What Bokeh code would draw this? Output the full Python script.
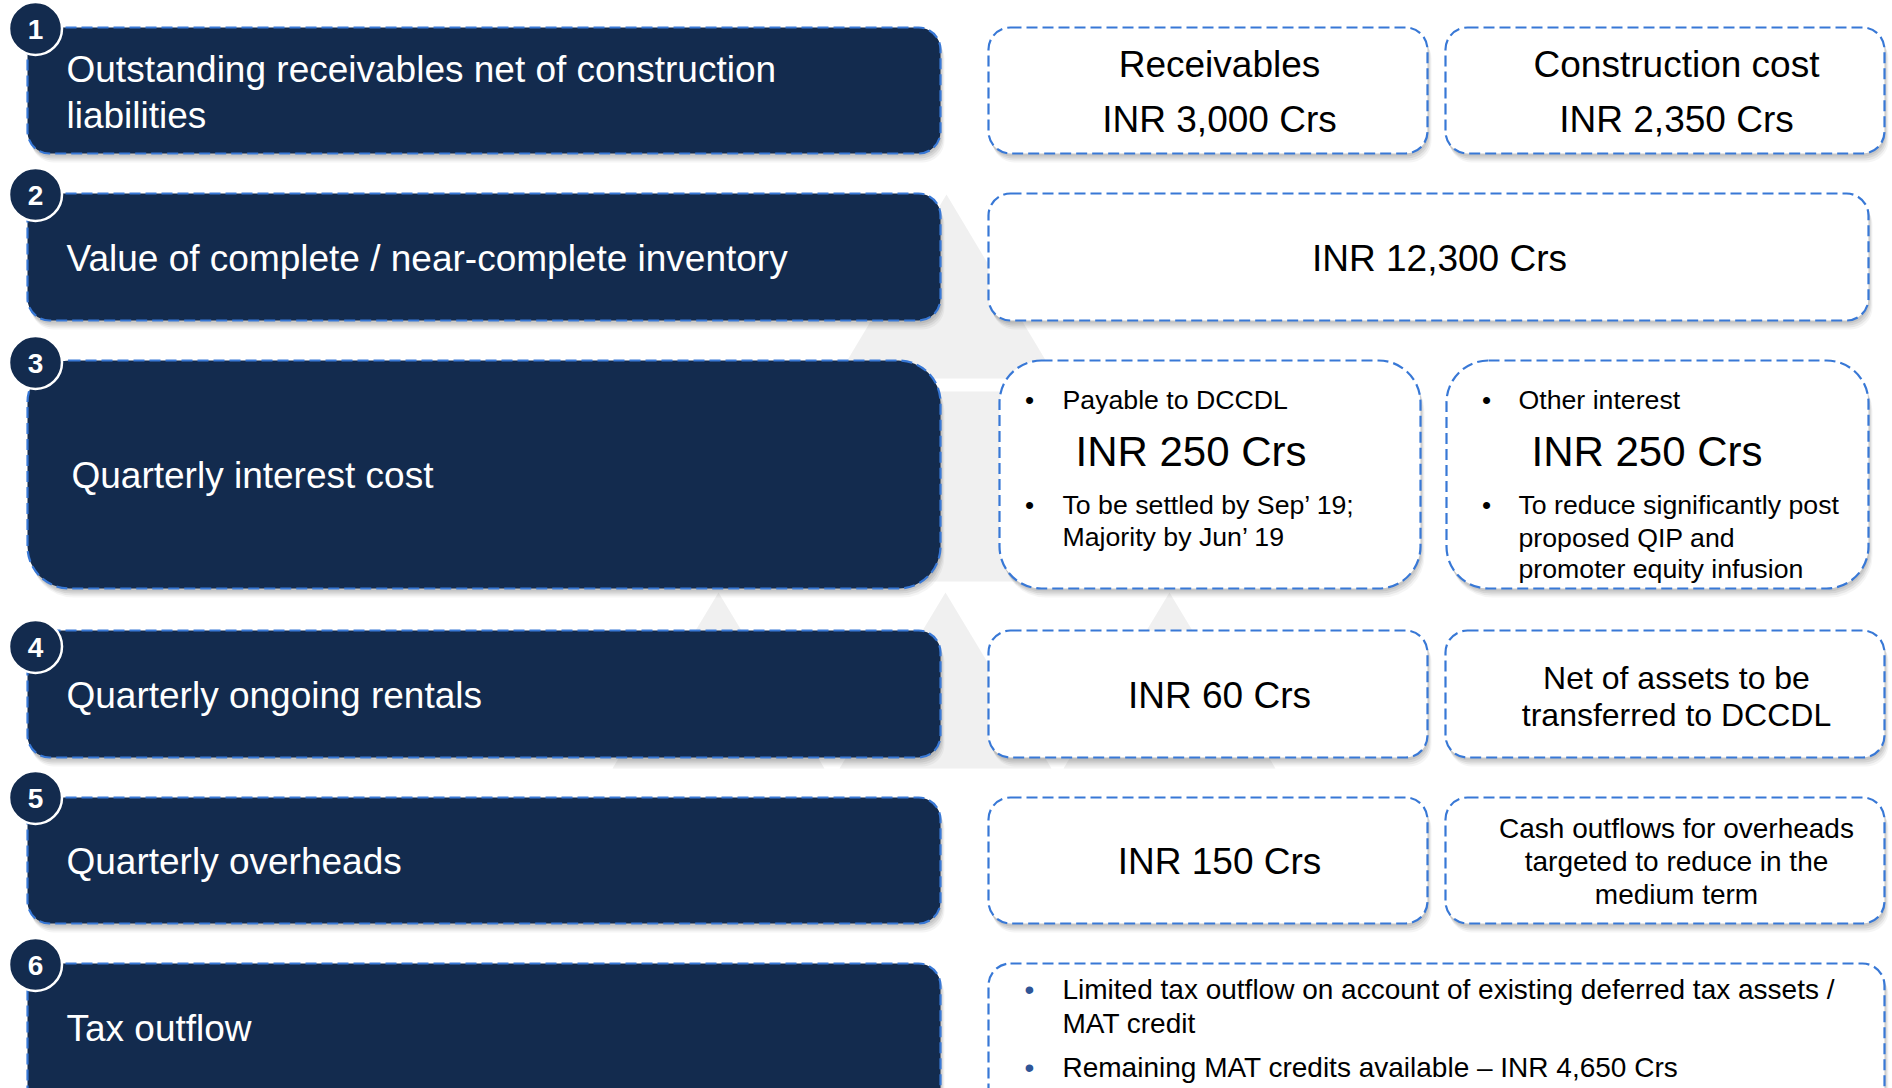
from bokeh.plotting import figure
from bokeh.models import Range1d
from bokeh.core.properties import value
from bokeh.embed import file_html
from bokeh.resources import INLINE

FONT = value("Liberation Sans")
NAVY = "#132b4e"
BLUE = "#3878d6"

# ---------------- content ----------------
row_numbers = ["1", "2", "3", "4", "5", "6"]
row_labels = [
    ["Outstanding receivables net of construction", "liabilities"],
    ["Value of complete / near-complete inventory"],
    ["Quarterly interest cost"],
    ["Quarterly ongoing rentals"],
    ["Quarterly overheads"],
    ["Tax outflow"],
]
receivables = "INR 3,000 Crs"
construction_cost = "INR 2,350 Crs"
inventory_value = "INR 12,300 Crs"
interest_dccdl = "INR 250 Crs"
interest_other = "INR 250 Crs"
rentals = "INR 60 Crs"
overheads = "INR 150 Crs"
mat_credit = "INR 4,650 Crs"

# ---------------- layout ----------------
W, H = 1892, 1088
p = figure(width=W, height=H, x_range=Range1d(0, W), y_range=Range1d(H, 0),
           output_backend="svg", toolbar_location=None, min_border=0,
           x_axis_location=None, y_axis_location=None)
p.grid.visible = False
p.outline_line_color = None
p.background_fill_color = "white"
p.border_fill_color = "white"

# watermark (faint logo)
wm = "#f0f0f0"
p.patches(
    xs=[[946, 836, 1056], [828, 1064, 1178, 714], [718, 612, 824], [945, 839, 1051], [1169, 1063, 1275]],
    ys=[[194, 378, 378], [391, 391, 581, 581], [592, 768, 768], [592, 768, 768], [592, 768, 768]],
    fill_color=wm, line_color=None)

row_top = [27, 193, 360, 630, 797, 963]
row_bot = [153, 320, 588, 757, 923, 1110]
left_radius = [22, 22, 42, 22, 22, 22]
circle_y = [28, 194, 362, 646, 797, 964]

# right boxes: (left, right, row index, radius)
right_boxes = [
    (988, 1427, 0, 22), (1445, 1884, 0, 22),
    (988, 1868, 1, 22),
    (999, 1420, 2, 42), (1446, 1868, 2, 42),
    (988, 1427, 3, 22), (1445, 1884, 3, 22),
    (988, 1427, 4, 22), (1445, 1884, 4, 22),
    (988, 1884, 5, 22),
]


def box(l, r, t, b, rad, fill):
    for dx, dy, a in [(1, 3, 0.10), (2, 5, 0.10), (3, 7, 0.08), (4, 9, 0.05)]:
        p.quad(left=l + dx, right=r + dx, top=t + dy, bottom=b + dy,
               fill_color="#404040", fill_alpha=a, line_color=None, border_radius=rad)
    p.quad(left=l, right=r, top=t, bottom=b, fill_color=fill, line_color=BLUE,
           line_width=2.2, line_dash="11 5", border_radius=rad)


for i in range(6):
    box(27, 940, row_top[i], row_bot[i], left_radius[i], NAVY)
for (l, r, ri, rad) in right_boxes:
    box(l, r, row_top[ri], row_bot[ri], rad, "white")

# number circles
p.scatter(x=[35] * 6, y=circle_y, size=53, fill_color=NAVY, line_color="white", line_width=2.5)
p.text(x=[35] * 6, y=[c + 1 for c in circle_y], text=row_numbers, text_font=FONT,
       text_font_style="bold", text_font_size="28px", text_color="white",
       text_align="center", text_baseline="middle")

# left labels
lx = [66, 66, 71, 66, 66, 66]
ly = [[69, 115], [258], [475], [695], [861], [1028]]
tx, ty, tt = [], [], []
for i, lines in enumerate(row_labels):
    for j, s in enumerate(lines):
        tx.append(lx[i]); ty.append(ly[i][j]); tt.append(s)
p.text(x=tx, y=ty, text=tt, text_font=FONT, text_font_size="37px", text_color="white",
       text_align="left", text_baseline="middle")


def txt(xs, ys, ss, size, align="center", color="black"):
    p.text(x=xs, y=ys, text=ss, text_font=FONT, text_font_size=size, text_color=color,
           text_align=align, text_baseline="middle")


# row 1
txt([1219, 1219, 1676, 1676], [64, 119, 64, 119],
    ["Receivables", receivables, "Construction cost", construction_cost], "37px")
# row 2
txt([1439], [258], [inventory_value], "37px")
# row 3
txt([1029, 1029, 1486, 1486], [399, 504, 399, 504], ["•"] * 4, "26px", "center")
txt([1062, 1062, 1062, 1518, 1518, 1518, 1518], [399, 504, 536, 399, 504, 537, 568],
    ["Payable to DCCDL", "To be settled by Sep\u2019 19;", "Majority by Jun\u2019 19",
     "Other interest", "To reduce significantly post", "proposed QIP and",
     "promoter equity infusion"], "26.7px", "left")
txt([1075, 1531], [451, 451], [interest_dccdl, interest_other], "42px", "left")
# row 4
txt([1219], [695], [rentals], "37px")
txt([1676, 1676], [677, 714], ["Net of assets to be", "transferred to DCCDL"], "32px")
# row 5
txt([1219], [861], [overheads], "37px")
txt([1676, 1676, 1676], [828, 861, 894],
    ["Cash outflows for overheads", "targeted to reduce in the", "medium term"], "28px")
# row 6
txt([1029, 1029], [989, 1067], ["•", "•"], "28px", "center", "#2f5597")
txt([1062, 1062, 1062], [989, 1023, 1067],
    ["Limited tax outflow on account of existing deferred tax assets /", "MAT credit",
     "Remaining MAT credits available \u2013 " + mat_credit], "28px", "left")

open("out.html", "w").write(file_html(p, INLINE))
